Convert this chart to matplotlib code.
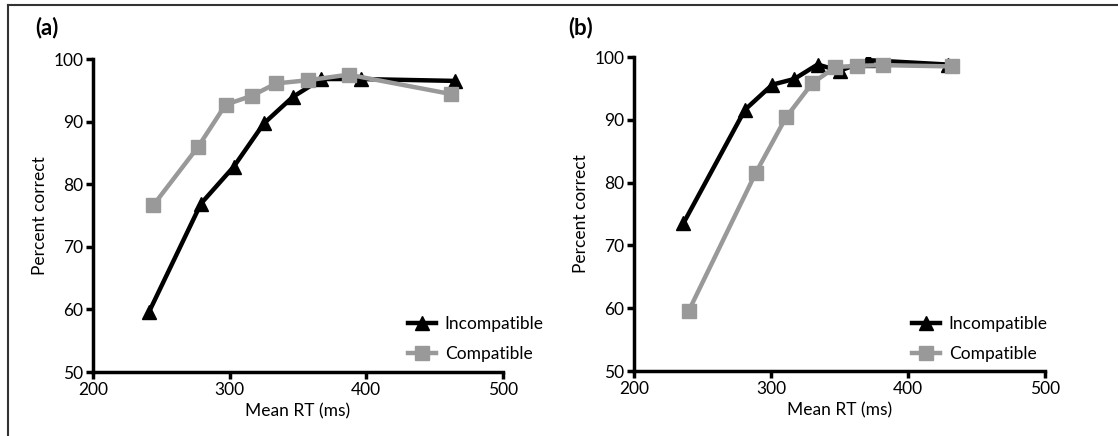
import matplotlib
matplotlib.use("Agg")
import matplotlib.pyplot as plt
from matplotlib.lines import Line2D

plt.rcParams['font.family'] = ['Lato', 'DejaVu Sans']

# panel (a)
a_incomp_rt = [241, 279, 303, 325, 346, 367, 396, 465]
a_incomp_pc = [59.6, 76.9, 82.8, 89.7, 93.9, 96.8, 96.8, 96.5]
a_comp_rt = [244, 277, 297, 316, 334, 357, 387, 462]
a_comp_pc = [76.6, 86.0, 92.7, 94.1, 96.1, 96.6, 97.5, 94.4]

# panel (b)
b_incomp_rt = [236, 281, 301, 317, 334, 350, 371, 429]
b_incomp_pc = [73.5, 91.6, 95.6, 96.5, 98.8, 97.8, 99.5, 98.8]
b_comp_rt = [240, 289, 311, 330, 347, 363, 382, 432]
b_comp_pc = [59.6, 81.6, 90.4, 95.8, 98.4, 98.6, 98.7, 98.5]

xticks = [200, 300, 400, 500]
yticks = [50, 60, 70, 80, 90, 100]
gray = '#999999'

W, H = 1118, 436
fig = plt.figure(figsize=(W / 100, H / 100), dpi=100)

panels = [
    ('(a)', (93, 59, 503, 372), (35, 28), (a_incomp_rt, a_incomp_pc, a_comp_rt, a_comp_pc), (412, 339)),
    ('(b)', (634, 57, 1045, 371), (568, 28), (b_incomp_rt, b_incomp_pc, b_comp_rt, b_comp_pc), (916, 339)),
]

for label, (x0, y0, x1, y1), (lx, ly), (irt, ipc, crt, cpc), (legx, legy) in panels:
    ax = fig.add_axes([x0 / W, 1 - y1 / H, (x1 - x0) / W, (y1 - y0) / H])
    ax.plot(crt, cpc, color=gray, lw=3.2, marker='s', ms=10, label='Compatible', zorder=3)
    ax.plot(irt, ipc, color='black', lw=3.2, marker='^', ms=10, label='Incompatible', zorder=2)
    ax.set_xlim(200, 500)
    ax.set_ylim(50, 100)
    ax.set_xticks(xticks)
    ax.set_yticks(yticks)
    for s in ['top', 'right']:
        ax.spines[s].set_visible(False)
    for s in ['left', 'bottom']:
        ax.spines[s].set_linewidth(2.5)
    ax.tick_params(width=2.5, length=5, labelsize=12.5, pad=2)
    ax.set_xlabel('Mean RT (ms)', fontsize=12.5, labelpad=4)
    ax.set_ylabel('Percent correct', fontsize=12.5, labelpad=4)
    handles = [Line2D([], [], color='black', lw=3.2, marker='^', ms=10),
               Line2D([], [], color=gray, lw=3.2, marker='s', ms=10)]
    ax.legend(handles, ['Incompatible', 'Compatible'], frameon=False, fontsize=12.5,
              loc='center left', bbox_to_anchor=((legx - x0) / (x1 - x0) - 0.03, (y1 - legy) / (y1 - y0)),
              handlelength=1.6, handletextpad=0.5, labelspacing=0.8, borderpad=0)
    fig.text(lx / W, 1 - ly / H, label, fontsize=16, fontweight='bold', va='center', ha='left')

# figure border (left and top edges)
fig.add_artist(Line2D([8 / W, 8 / W], [0, 1 - 5 / H], color='#333333', lw=1.5))
fig.add_artist(Line2D([8 / W, 1], [1 - 5 / H, 1 - 5 / H], color='#333333', lw=1.5))

fig.savefig('out.png', dpi=100)
